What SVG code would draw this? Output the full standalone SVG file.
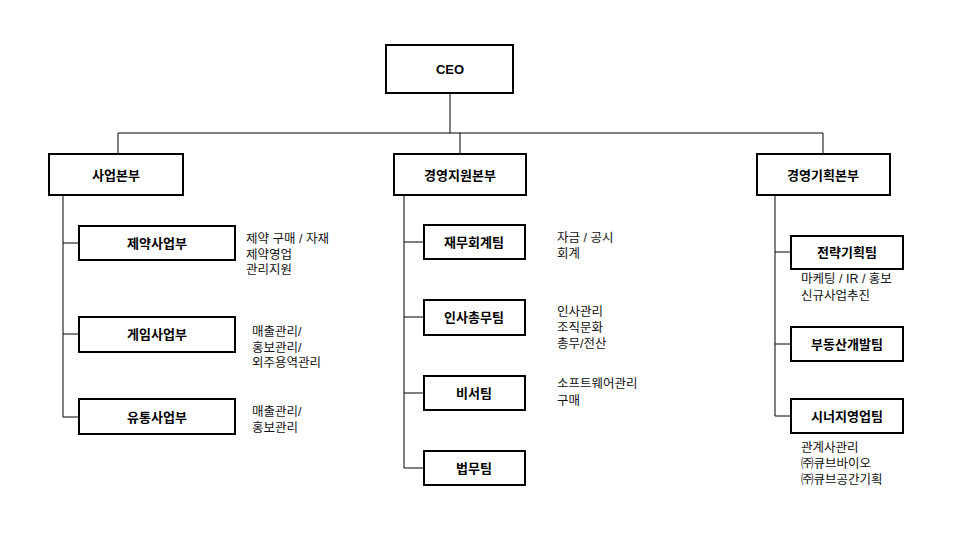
<svg xmlns="http://www.w3.org/2000/svg" width="978" height="537" viewBox="0 0 978 537">
<style>
.b{fill:#fff;stroke:#000;stroke-width:2}
.t{font-family:"Liberation Sans","Noto Sans CJK KR",sans-serif;font-weight:bold;font-size:13px;text-anchor:middle;dominant-baseline:central}
.n{font-family:"Liberation Sans","Noto Sans CJK KR",sans-serif;font-size:12.5px;fill:#111}
.c{stroke:#000;stroke-width:1;fill:none}
</style>
<rect width="978" height="537" fill="#fff"/>
<g id="connectors">
<path class="c" d="M450 93V133M118 133H823M118 133V154M460 133V154M823 133V154"/>
<path class="c" d="M63 195V417M63 243H79M63 334H79M63 417H79"/>
<path class="c" d="M404 195V468M404 242H424M404 317H424M404 393H424M404 468H424"/>
<path class="c" d="M775 195V416M775 252H791M775 344H791M775 416H791"/>
</g>
<g id="ceo"><rect class="b" x="386" y="45" width="127" height="48"/><text class="t" x="450" y="69" font-size="15">CEO</text></g>
<g id="n1"><rect class="b" x="49" y="154" width="134" height="41"/><text class="t" x="116" y="175">사업본부</text></g>
<g id="n2"><rect class="b" x="394" y="154" width="132" height="41"/><text class="t" x="460" y="175">경영지원본부</text></g>
<g id="n3"><rect class="b" x="757" y="154" width="133" height="41"/><text class="t" x="823" y="175">경영기획본부</text></g>
<g id="n11"><rect class="b" x="79" y="226" width="156" height="34"/><text class="t" x="157" y="243">제약사업부</text>
<text class="n" x="246" y="243">제약 구매 / 자재</text><text class="n" x="246" y="259">제약영업</text><text class="n" x="246" y="274">관리지원</text></g>
<g id="n12"><rect class="b" x="79" y="317" width="156" height="35"/><text class="t" x="157" y="334">게임사업부</text>
<text class="n" x="252" y="336">매출관리/</text><text class="n" x="252" y="352">홍보관리/</text><text class="n" x="252" y="367">외주용역관리</text></g>
<g id="n13"><rect class="b" x="79" y="399" width="156" height="35"/><text class="t" x="157" y="417">유통사업부</text>
<text class="n" x="252" y="416">매출관리/</text><text class="n" x="252" y="432">홍보관리</text></g>
<g id="n21"><rect class="b" x="424" y="225" width="101" height="34"/><text class="t" x="474" y="242">재무회계팀</text>
<text class="n" x="557" y="242">자금 / 공시</text><text class="n" x="557" y="258">회계</text></g>
<g id="n22"><rect class="b" x="424" y="300" width="101" height="35"/><text class="t" x="474" y="317">인사총무팀</text>
<text class="n" x="557" y="316">인사관리</text><text class="n" x="557" y="332">조직문화</text><text class="n" x="557" y="348">총무/전산</text></g>
<g id="n23"><rect class="b" x="424" y="376" width="101" height="34"/><text class="t" x="474" y="393">비서팀</text>
<text class="n" x="557" y="388">소프트웨어관리</text><text class="n" x="557" y="405">구매</text></g>
<g id="n24"><rect class="b" x="424" y="451" width="101" height="34"/><text class="t" x="474" y="468">법무팀</text></g>
<g id="n31"><rect class="b" x="791" y="236" width="112" height="33"/><text class="t" x="847" y="252">전략기획팀</text>
<text class="n" x="801" y="283">마케팅 / IR / 홍보</text><text class="n" x="801" y="300">신규사업추진</text></g>
<g id="n32"><rect class="b" x="791" y="327" width="112" height="34"/><text class="t" x="847" y="344">부동산개발팀</text></g>
<g id="n33"><rect class="b" x="791" y="399" width="112" height="34"/><text class="t" x="847" y="416">시너지영업팀</text>
<text class="n" x="801" y="452">관계사관리</text><text class="n" x="801" y="468">㈜큐브바이오</text><text class="n" x="801" y="484">㈜큐브공간기획</text></g>
</svg>
